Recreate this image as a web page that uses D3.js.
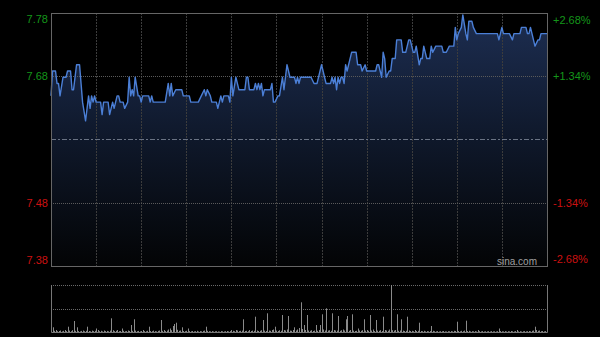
<!DOCTYPE html>
<html><head><meta charset="utf-8">
<script src="https://cdn.jsdelivr.net/npm/d3@7"></script>
<style>html,body{margin:0;padding:0;background:#000;}svg{display:block;}</style>
</head><body>
<svg id="chart" width="600" height="337"></svg>
<script>
// ---- data ----
const prevClose = 7.58;
const pctTicks = [2.68, 1.34, 0, -1.34, -2.68];
const pctLabels = ["+2.68%", "+1.34%", "", "-1.34%", "-2.68%"];
const priceLabels = ["7.78", "7.68", "", "7.48", "7.38"];
const totalMinutes = 330;
const gridMinutes = [30, 60, 90, 120, 150, 180, 210, 240, 270, 300];

const minutes = [0,1,3,4,5,6,8,10,11,13,14,15,17,19,20,21,23,24,25,26,27,28,29,30,33,34,35,38,39,41,42,44,45,46,48,49,51,52,53,54,55,56,58,59,60,61,65,66,67,68,76,78,79,80,81,83,87,88,92,93,98,100,102,103,104,106,107,110,111,113,114,115,118,119,120,121,123,125,129,130,131,132,135,136,137,138,139,140,141,142,146,147,148,149,151,152,154,155,157,159,162,163,164,165,166,173,175,177,180,182,183,186,187,188,189,190,191,192,193,194,195,196,197,200,203,204,206,207,209,210,216,217,218,220,221,222,223,225,226,227,229,230,233,234,236,238,239,241,242,243,245,246,247,248,250,252,253,254,256,260,261,263,265,268,269,270,271,273,274,276,277,278,280,281,283,297,298,299,300,301,305,307,308,312,313,316,317,318,319,321,322,324,325,326,330];
const prices  = [7.65,7.69,7.69,7.67,7.67,7.65,7.68,7.68,7.69,7.69,7.66,7.66,7.70,7.70,7.67,7.64,7.61,7.63,7.65,7.63,7.65,7.64,7.65,7.64,7.64,7.62,7.64,7.64,7.62,7.64,7.63,7.65,7.65,7.64,7.64,7.63,7.64,7.68,7.65,7.66,7.65,7.68,7.65,7.65,7.64,7.65,7.65,7.64,7.65,7.64,7.64,7.67,7.65,7.67,7.65,7.66,7.66,7.65,7.65,7.64,7.64,7.65,7.66,7.65,7.66,7.65,7.64,7.64,7.63,7.65,7.64,7.65,7.65,7.64,7.68,7.65,7.68,7.66,7.66,7.68,7.68,7.66,7.66,7.67,7.66,7.67,7.66,7.67,7.65,7.66,7.66,7.67,7.64,7.64,7.65,7.65,7.68,7.66,7.70,7.68,7.68,7.67,7.68,7.67,7.68,7.68,7.67,7.67,7.70,7.68,7.67,7.67,7.68,7.67,7.68,7.66,7.68,7.67,7.68,7.68,7.67,7.70,7.69,7.72,7.72,7.70,7.70,7.69,7.70,7.69,7.69,7.70,7.70,7.68,7.72,7.71,7.68,7.69,7.69,7.71,7.71,7.74,7.74,7.72,7.72,7.74,7.74,7.72,7.72,7.73,7.70,7.71,7.71,7.73,7.71,7.71,7.73,7.72,7.73,7.73,7.72,7.72,7.73,7.73,7.76,7.74,7.75,7.76,7.78,7.75,7.74,7.77,7.77,7.76,7.75,7.75,7.74,7.75,7.76,7.75,7.75,7.74,7.75,7.75,7.76,7.76,7.75,7.75,7.76,7.74,7.73,7.74,7.74,7.75,7.75];

const volumes = [
30,47,12,20,8,10,15,6,12,20,9,53,14,8,18,110,12,47,9,6,11,15,8,12,53,10,7,14,9,12,
35,20,8,12,6,15,9,11,7,14,137,18,9,12,20,8,10,35,12,7,9,15,10,70,12,127,14,8,11,6,
10,20,9,7,12,53,10,8,14,9,6,11,15,120,12,20,9,14,25,35,18,60,80,93,22,12,15,47,10,8,
12,35,9,7,10,6,8,12,5,9,7,11,14,53,12,8,6,9,5,7,8,6,4,9,7,5,8,10,6,9,
20,12,8,20,15,9,12,14,127,10,12,8,20,10,14,12,153,15,10,12,18,120,14,10,187,15,12,20,25,53,
14,10,18,12,170,20,15,25,160,14,12,20,47,15,25,40,297,30,70,20,170,15,12,18,10,14,70,12,20,70,
177,25,15,237,14,18,12,187,20,15,14,160,12,18,25,15,127,160,12,20,177,14,10,12,35,15,12,18,127,14,
20,12,170,15,25,10,120,14,12,18,10,153,20,15,12,25,470,18,14,20,177,12,15,127,14,10,12,153,15,10,
12,8,20,10,12,93,10,8,12,6,9,7,10,60,12,8,6,9,5,8,7,10,6,5,8,7,9,6,12,10,
103,10,7,12,8,14,113,10,12,6,8,7,9,5,20,8,6,9,5,7,6,8,5,9,6,7,5,8,35,10,
7,6,9,5,8,6,10,7,5,9,20,6,8,5,7,9,6,8,10,7,12,15,53,20,12,15,8,10,6,9,
12];
const maxVolume = 470;

// ---- layout ----
const L = 51, R = 548, T = 13, B = 266;
const VT = 285, VB = 332;

const svg = d3.select("#chart");
const yDomain = [prevClose * (1 - 0.0268), prevClose * (1 + 0.0268)];
const x = d3.scaleLinear().domain([0, totalMinutes]).range([L, R - 1]);
const y = d3.scaleLinear().domain(yDomain).range([B, T]);
const yv = d3.scaleLinear().domain([0, maxVolume]).range([VB, VT]);

const defs = svg.append("defs");
const grad = defs.append("linearGradient").attr("id", "areaGrad")
  .attr("gradientUnits", "userSpaceOnUse").attr("x1", 0).attr("x2", 0).attr("y1", T).attr("y2", B);
grad.append("stop").attr("offset", "0%").attr("stop-color", "#1d2e52");
grad.append("stop").attr("offset", "45%").attr("stop-color", "#101a2e");
grad.append("stop").attr("offset", "100%").attr("stop-color", "#030405");

const pts = minutes.map((m, i) => [m, prices[i]]);

// area
svg.append("path").datum(pts)
  .attr("fill", "url(#areaGrad)")
  .attr("d", d3.area().x(d => x(d[0])).y0(B).y1(d => y(d[1])));

// vertical grid
svg.append("g").selectAll("line").data(gridMinutes).join("line")
  .attr("x1", d => Math.round(x(d)) + 0.5).attr("x2", d => Math.round(x(d)) + 0.5)
  .attr("y1", T).attr("y2", B)
  .attr("stroke", "#3c3c3c").attr("stroke-dasharray", "2,1");

// horizontal grid
const tickPrices = pctTicks.map(p => prevClose * (1 + p / 100));
svg.append("g").selectAll("line").data(pctTicks.filter((p, i) => i > 0 && i < 4)).join("line")
  .attr("x1", L).attr("x2", R)
  .attr("y1", d => Math.round(y(prevClose * (1 + d / 100))) + 0.5)
  .attr("y2", d => Math.round(y(prevClose * (1 + d / 100))) + 0.5)
  .attr("stroke", d => d === 0 ? "#6a7384" : "#5a5a5a")
  .attr("stroke-width", d => d === 0 ? 1.2 : 1)
  .attr("stroke-dasharray", d => d === 0 ? "5,2,2,2" : "1,1");

// price line
svg.append("path").datum(pts)
  .attr("fill", "none").attr("stroke", "#4b7fd6").attr("stroke-width", 1.4)
  .attr("stroke-linejoin", "round")
  .attr("d", d3.line().x(d => x(d[0])).y(d => y(d[1])));

// frame
svg.append("rect").attr("x", L + 0.5).attr("y", T + 0.5).attr("width", R - L - 1).attr("height", B - T)
  .attr("fill", "none").attr("stroke", "#666");

// left labels
const labY = (i) => {
  const yy = y(tickPrices[i]);
  if (i === 0) return yy + 9.5;
  if (i === 4) return yy - 2;
  return yy + 4;
};
svg.append("g").selectAll("text").data(priceLabels).join("text")
  .attr("x", 48).attr("y", (d, i) => labY(i)).attr("text-anchor", "end")
  .attr("font-family", "Arial, 'Liberation Sans', sans-serif").attr("font-size", 11)
  .attr("fill", (d, i) => i < 2 ? "#14961a" : "#cc1111")
  .text(d => d);

svg.append("g").selectAll("text").data(pctLabels).join("text")
  .attr("x", 553).attr("y", (d, i) => labY(i) + (i === 0 ? 1 : i === 4 ? -1 : 0))
  .attr("text-anchor", "start")
  .attr("font-family", "Arial, 'Liberation Sans', sans-serif").attr("font-size", 11)
  .attr("fill", (d, i) => i < 2 ? "#14961a" : "#cc1111")
  .text(d => d);

svg.append("text").attr("x", 537).attr("y", 264.5).attr("text-anchor", "end")
  .attr("font-family", "Arial, 'Liberation Sans', sans-serif").attr("font-size", 10)
  .attr("fill", "#a0a0a0").text("sina.com");

// volume panel
svg.append("g").selectAll("line").data([VT, (VT + VB) / 2]).join("line")
  .attr("x1", L).attr("x2", R).attr("y1", d => Math.round(d) + 0.5).attr("y2", d => Math.round(d) + 0.5)
  .attr("stroke", "#6a6a6a").attr("stroke-dasharray", "1,1");

svg.append("g").selectAll("line").data(volumes).join("line")
  .attr("x1", (d, i) => Math.round(x(i)) + 0.5).attr("x2", (d, i) => Math.round(x(i)) + 0.5)
  .attr("y1", VB).attr("y2", d => yv(d))
  .attr("stroke", "#8a8a8a").attr("stroke-width", 1);

svg.append("path")
  .attr("d", `M${L + 0.5},${VT} V${VB + 0.5} H${R - 0.5} V${VT}`)
  .attr("fill", "none").attr("stroke", "#777");
</script>
</body></html>
